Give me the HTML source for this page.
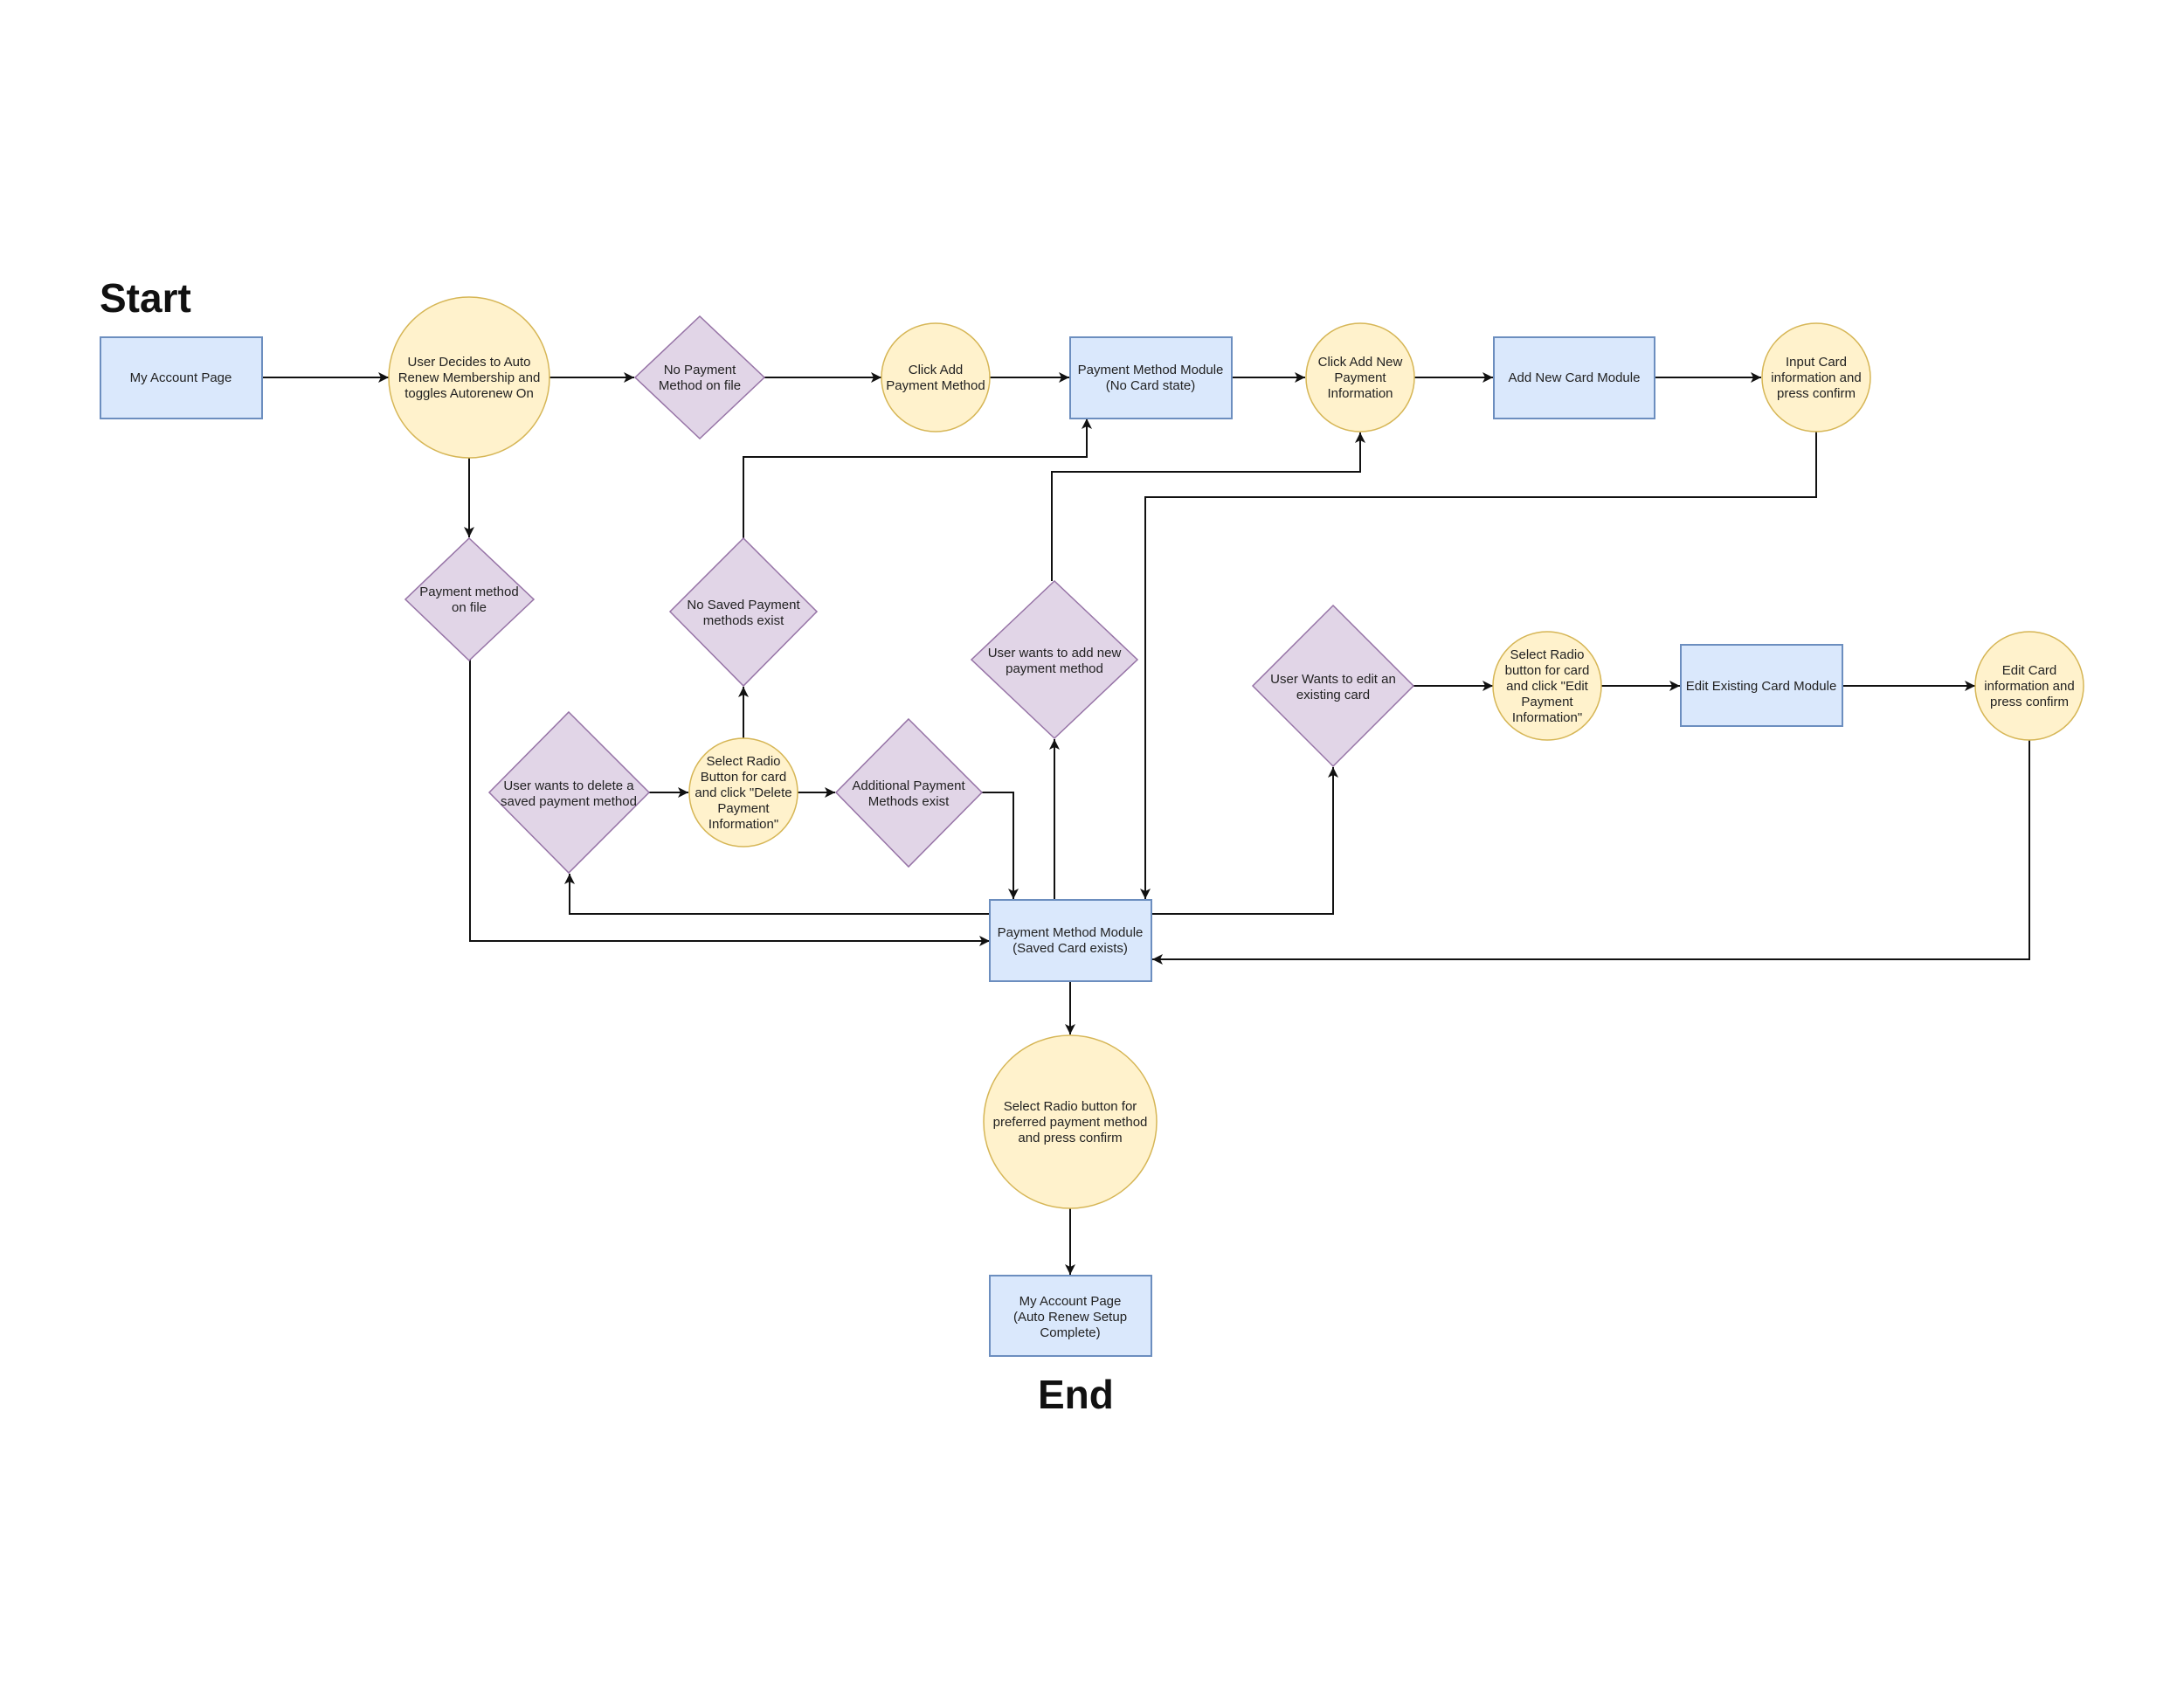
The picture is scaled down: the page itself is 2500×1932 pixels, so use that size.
<!DOCTYPE html>
<html><head><meta charset="utf-8"><style>
html,body{margin:0;padding:0;background:#fff}
svg{display:block}
text{font-family:"Liberation Sans",Arial,sans-serif;font-size:15px;fill:#222;text-anchor:middle}
.t{font-size:46px;fill:#111;text-anchor:start;font-weight:600}
.b{fill:#dae8fc;stroke:#6c8ebf;stroke-width:2}
.y{fill:#fff2cc;stroke:#d6b656;stroke-width:1.5}
.p{fill:#e1d5e7;stroke:#9673a6;stroke-width:1.5}
.e{fill:none;stroke:#111;stroke-width:2;marker-end:url(#a)}
</style></head><body>
<svg width="2500" height="1932" viewBox="0 0 2500 1932" xmlns="http://www.w3.org/2000/svg">
<defs><marker id="a" markerUnits="userSpaceOnUse" markerWidth="14" markerHeight="14" refX="12" refY="6" orient="auto"><path d="M0,0 L12,6 L0,12 L3,6 z" fill="#111"/></marker></defs>
<rect width="2500" height="1932" fill="#fff"/>
<text class="t" x="114" y="357">Start</text>
<text class="t" x="1188" y="1612">End</text>

<!-- edges -->
<path class="e" d="M300,432 H445"/>
<path class="e" d="M629,432 H726"/>
<path class="e" d="M875,432 H1009"/>
<path class="e" d="M1133,432 H1224"/>
<path class="e" d="M1410,432 H1494"/>
<path class="e" d="M1619,432 H1709"/>
<path class="e" d="M1894,432 H2016"/>
<path class="e" d="M537,524 V615"/>
<path class="e" d="M538,755 V1077 H1133"/>
<path class="e" d="M2079,494 V569 H1311 V1029"/>
<path class="e" d="M851,616 V523 H1244 V479"/>
<path class="e" d="M1204,665 V540 H1557 V495"/>
<path class="e" d="M743,907 H788"/>
<path class="e" d="M913,907 H956"/>
<path class="e" d="M1124,907 H1160 V1029"/>
<path class="e" d="M851,845 V786"/>
<path class="e" d="M1133,1046 H652 V1000"/>
<path class="e" d="M1207,1030 V846"/>
<path class="e" d="M1318,1046 H1526 V878"/>
<path class="e" d="M1618,785 H1709"/>
<path class="e" d="M1833,785 H1923"/>
<path class="e" d="M2109,785 H2261"/>
<path class="e" d="M2323,847 V1098 H1319"/>
<path class="e" d="M1225,1123 V1184"/>
<path class="e" d="M1225,1383 V1459"/>

<!-- rects -->
<rect class="b" x="115" y="386" width="185" height="93"/>
<text x="207" y="437">My Account Page</text>
<rect class="b" x="1225" y="386" width="185" height="93"/>
<text x="1317" y="428">Payment Method Module</text><text x="1317" y="446">(No Card state)</text>
<rect class="b" x="1710" y="386" width="184" height="93"/>
<text x="1802" y="437">Add New Card Module</text>
<rect class="b" x="1924" y="738" width="185" height="93"/>
<text x="2016" y="790">Edit Existing Card Module</text>
<rect class="b" x="1133" y="1030" width="185" height="93"/>
<text x="1225" y="1072">Payment Method Module</text><text x="1225" y="1090">(Saved Card exists)</text>
<rect class="b" x="1133" y="1460" width="185" height="92"/>
<text x="1225" y="1494">My Account Page</text><text x="1225" y="1512">(Auto Renew Setup</text><text x="1225" y="1530">Complete)</text>

<!-- circles -->
<circle class="y" cx="537" cy="432" r="92"/>
<text x="537" y="419">User Decides to Auto</text><text x="537" y="437">Renew Membership and</text><text x="537" y="455">toggles Autorenew On</text>
<circle class="y" cx="1071" cy="432" r="62"/>
<text x="1071" y="428">Click Add</text><text x="1071" y="446">Payment Method</text>
<circle class="y" cx="1557" cy="432" r="62"/>
<text x="1557" y="419">Click Add New</text><text x="1557" y="437">Payment</text><text x="1557" y="455">Information</text>
<circle class="y" cx="2079" cy="432" r="62"/>
<text x="2079" y="419">Input Card</text><text x="2079" y="437">information and</text><text x="2079" y="455">press confirm</text>
<circle class="y" cx="851" cy="907" r="62"/>
<text x="851" y="876">Select Radio</text><text x="851" y="894">Button for card</text><text x="851" y="912">and click "Delete</text><text x="851" y="930">Payment</text><text x="851" y="948">Information"</text>
<circle class="y" cx="1771" cy="785" r="62"/>
<text x="1771" y="754">Select Radio</text><text x="1771" y="772">button for card</text><text x="1771" y="790">and click "Edit</text><text x="1771" y="808">Payment</text><text x="1771" y="826">Information"</text>
<circle class="y" cx="2323" cy="785" r="62"/>
<text x="2323" y="772">Edit Card</text><text x="2323" y="790">information and</text><text x="2323" y="808">press confirm</text>
<circle class="y" cx="1225" cy="1284" r="99"/>
<text x="1225" y="1271">Select Radio button for</text><text x="1225" y="1289">preferred payment method</text><text x="1225" y="1307">and press confirm</text>

<!-- diamonds -->
<polygon class="p" points="801,362 875,432 801,502 727,432"/>
<text x="801" y="428">No Payment</text><text x="801" y="446">Method on file</text>
<polygon class="p" points="537,616 611,686 537,756 464,686"/>
<text x="537" y="682">Payment method</text><text x="537" y="700">on file</text>
<polygon class="p" points="851,616 935,700 851,785 767,700"/>
<text x="851" y="697">No Saved Payment</text><text x="851" y="715">methods exist</text>
<polygon class="p" points="1207,665 1302,755 1207,845 1112,755"/>
<text x="1207" y="752">User wants to add new</text><text x="1207" y="770">payment method</text>
<polygon class="p" points="1526,693 1618,785 1526,877 1434,785"/>
<text x="1526" y="782">User Wants to edit an</text><text x="1526" y="800">existing card</text>
<polygon class="p" points="651,815 743,907 651,999 560,907"/>
<text x="651" y="904">User wants to delete a</text><text x="651" y="922">saved payment method</text>
<polygon class="p" points="1040,823 1124,907 1040,992 957,907"/>
<text x="1040" y="904">Additional Payment</text><text x="1040" y="922">Methods exist</text>
</svg>
</body></html>
